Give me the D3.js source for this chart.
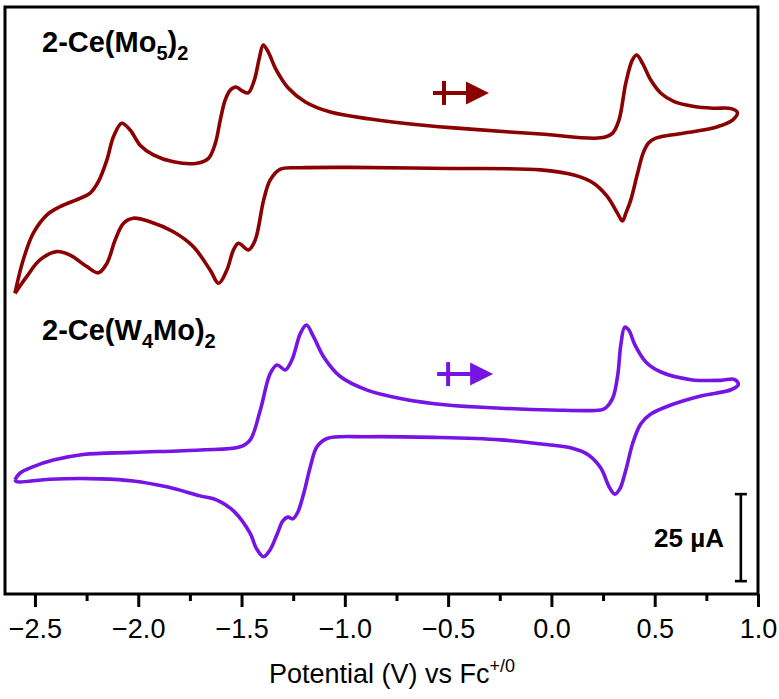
<!DOCTYPE html>
<html>
<head>
<meta charset="utf-8">
<script src="https://cdnjs.cloudflare.com/ajax/libs/d3/7.8.5/d3.min.js"></script>
<style>
  body { margin: 0; background: #fff; }
  text { font-family: "Liberation Sans", Arial, sans-serif; }
</style>
</head>
<body>
<svg id="chart" width="779" height="699"></svg>
<script>
// potential (V vs Fc+/0), current (uA, curves stacked)
var mo5Curve = [
  [-2.597, 86.4], [-2.557, 96.0], [-2.508, 103.7], [-2.443, 108.9], [-2.379, 111.3],
  [-2.282, 113.7], [-2.233, 115.2], [-2.193, 118.5], [-2.152, 124.7], [-2.120, 131.4],
  [-2.080, 135.3], [-2.040, 133.4], [-1.991, 129.0], [-1.927, 126.2], [-1.830, 124.2],
  [-1.716, 123.8], [-1.660, 125.2], [-1.627, 129.5], [-1.603, 136.2], [-1.579, 142.0],
  [-1.555, 144.8], [-1.526, 145.7], [-1.497, 144.6], [-1.468, 144.0], [-1.438, 147.7],
  [-1.414, 154.0], [-1.395, 157.8], [-1.371, 155.8], [-1.332, 150.6], [-1.274, 145.4],
  [-1.191, 141.4], [-1.070, 138.5], [-0.876, 136.5], [-0.634, 134.8], [-0.391, 133.6],
  [-0.052, 132.2], [0.239, 131.1], [0.295, 132.4], [0.327, 136.2], [0.360, 146.8],
  [0.392, 153.5], [0.413, 154.9], [0.441, 152.5], [0.481, 147.7], [0.530, 143.9],
  [0.594, 141.5], [0.691, 140.1], [0.788, 139.6], [0.870, 139.5], [0.900, 138.4],
  [0.877, 136.2], [0.804, 134.3], [0.691, 132.9], [0.578, 131.9], [0.505, 131.0],
  [0.470, 129.6], [0.444, 126.7], [0.417, 120.9], [0.384, 113.2], [0.360, 109.4],
  [0.344, 107.2], [0.320, 109.4], [0.271, 114.2], [0.206, 118.0], [0.109, 120.4],
  [-0.052, 121.9], [-0.488, 122.3], [-0.973, 122.6], [-1.215, 122.5], [-1.312, 122.1],
  [-1.361, 119.0], [-1.393, 113.2], [-1.434, 101.7], [-1.466, 98.9], [-1.515, 100.8],
  [-1.539, 98.9], [-1.571, 93.1], [-1.611, 89.3], [-1.652, 93.1], [-1.733, 99.8],
  [-1.830, 104.1], [-1.943, 107.0], [-2.024, 108.0], [-2.072, 106.5], [-2.112, 101.7],
  [-2.152, 95.0], [-2.193, 92.3], [-2.249, 94.1], [-2.330, 97.4], [-2.395, 98.4],
  [-2.476, 96.0], [-2.540, 91.2], [-2.597, 86.4]
];

var w4moCurve = [
  [-2.597, 32.8], [-2.573, 34.7], [-2.508, 36.6], [-2.411, 38.5], [-2.266, 40.1],
  [-2.024, 40.7], [-1.700, 41.4], [-1.506, 42.3], [-1.458, 44.3], [-1.409, 52.9],
  [-1.361, 63.4], [-1.328, 65.8], [-1.288, 64.4], [-1.256, 67.3], [-1.215, 74.9],
  [-1.186, 77.3], [-1.151, 73.9], [-1.103, 68.2], [-1.022, 62.5], [-0.892, 58.6],
  [-0.731, 56.2], [-0.504, 54.3], [-0.246, 53.4], [-0.004, 52.9], [0.239, 52.9],
  [0.263, 53.5], [0.297, 56.3], [0.321, 62.9], [0.336, 71.6], [0.355, 76.7],
  [0.374, 75.9], [0.404, 71.6], [0.457, 66.7], [0.530, 63.8], [0.675, 61.6],
  [0.820, 61.4], [0.885, 61.7], [0.905, 60.3], [0.869, 58.7], [0.723, 56.9],
  [0.578, 54.3], [0.481, 51.7], [0.433, 48.9], [0.394, 43.4], [0.360, 35.6],
  [0.331, 30.2], [0.307, 28.7], [0.282, 30.5], [0.239, 36.2], [0.181, 39.9],
  [0.093, 42.0], [-0.004, 42.8], [-0.246, 44.3], [-0.569, 45.0], [-0.892, 45.2],
  [-1.086, 44.7], [-1.135, 42.3], [-1.167, 36.6], [-1.199, 28.9], [-1.228, 23.5],
  [-1.252, 21.6], [-1.276, 22.1], [-1.300, 21.0], [-1.329, 17.0], [-1.363, 12.6],
  [-1.393, 10.7], [-1.429, 13.2], [-1.458, 17.4], [-1.539, 23.9], [-1.619, 27.0],
  [-1.700, 28.2], [-1.862, 30.8], [-2.024, 32.5], [-2.185, 33.1], [-2.427, 33.0],
  [-2.589, 32.3], [-2.597, 32.8]
];

var xTicks = [-2.5, -2.0, -1.5, -1.0, -0.5, 0.0, 0.5, 1.0];
var xMinorTicks = [-2.25, -1.75, -1.25, -0.75, -0.25, 0.25, 0.75];
var scaleBar = [3.7, 28.7];       // 25 uA
var arrowStart = [-0.52, -0.50];  // scan start, V

var svg = d3.select("#chart");
var padL = 5, padR = 758, padT = 7, padB = 594;

var x = d3.scaleLinear().domain([-2.645, 1.0]).range([padL, padR]);
var y = d3.scaleLinear().domain([0, 168.7]).range([padB, padT]);

var line = d3.line()
  .x(function (d) { return x(d[0]); })
  .y(function (d) { return y(d[1]); })
  .curve(d3.curveCatmullRom.alpha(0.5));

// curves
var series = [
  { data: mo5Curve, color: "#8b0000", arrowY: 144.0, start: arrowStart[0] },
  { data: w4moCurve, color: "#7514e4", arrowY: 63.2, start: arrowStart[1] }
];

series.forEach(function (s) {
  svg.append("path")
    .attr("d", line(s.data))
    .attr("fill", "none")
    .attr("stroke", s.color)
    .attr("stroke-width", 3.6)
    .attr("stroke-linejoin", "round");

  // scan direction marker
  var ax = x(s.start), ay = y(s.arrowY);
  var g = svg.append("g");
  g.append("line")
    .attr("x1", ax - 11).attr("x2", ax + 25)
    .attr("y1", ay).attr("y2", ay)
    .attr("stroke", s.color).attr("stroke-width", 4);
  g.append("line")
    .attr("x1", ax).attr("x2", ax)
    .attr("y1", ay - 12).attr("y2", ay + 12)
    .attr("stroke", s.color).attr("stroke-width", 4);
  g.append("path")
    .attr("d", "M" + (ax + 22) + "," + (ay - 11.5) + "L" + (ax + 45) + "," + ay + "L" + (ax + 22) + "," + (ay + 11.5) + "Z")
    .attr("fill", s.color);
});

// frame
svg.append("rect")
  .attr("x", padL).attr("y", padT)
  .attr("width", padR - padL).attr("height", padB - padT)
  .attr("fill", "none")
  .attr("stroke", "#000")
  .attr("stroke-width", 3);

// x axis
var xAxis = d3.axisBottom(x).tickValues(xTicks).tickSize(13).tickPadding(12)
  .tickFormat(function (d) { return d3.format(".1f")(d).replace("-", "\u2212"); });
var gx = svg.append("g").attr("transform", "translate(0," + padB + ")").call(xAxis);
gx.select(".domain").remove();
gx.selectAll(".tick line").attr("stroke", "#000").attr("stroke-width", 3);
gx.selectAll(".tick text")
  .attr("fill", "#000")
  .style("font-size", "27px")
  .style("font-family", "'Liberation Sans', Arial, sans-serif");

var gm = svg.append("g").attr("transform", "translate(0," + padB + ")")
  .call(d3.axisBottom(x).tickValues(xMinorTicks).tickSize(7).tickFormat(""));
gm.select(".domain").remove();
gm.selectAll(".tick line").attr("stroke", "#000").attr("stroke-width", 3);

// axis title
var title = svg.append("text")
  .attr("x", 392).attr("y", 683)
  .attr("text-anchor", "middle")
  .attr("fill", "#000")
  .style("font-size", "27px");
title.append("tspan").text("Potential (V) vs Fc");
title.append("tspan").attr("dy", -11).style("font-size", "18px").text("+/0");

// compound labels
function label(yPos, parts) {
  var t = svg.append("text")
    .attr("x", 42).attr("y", yPos)
    .attr("fill", "#000")
    .style("font-size", "29px")
    .style("font-weight", "bold");
  var shift = 0;
  parts.forEach(function (p) {
    var sub = p[1];
    var ts = t.append("tspan").text(p[0]);
    var target = sub ? 8 : 0;
    if (target !== shift) { ts.attr("dy", target - shift); shift = target; }
    if (sub) ts.style("font-size", "20px");
  });
}
label(52, [["2-Ce(Mo", 0], ["5", 1], [")", 0], ["2", 1]]);
label(340, [["2-Ce(W", 0], ["4", 1], ["Mo)", 0], ["2", 1]]);

// scale bar
var sbx = x(0.917);
var sb = svg.append("g").attr("stroke", "#000").attr("stroke-width", 2.6);
sb.append("line").attr("x1", sbx).attr("x2", sbx).attr("y1", y(scaleBar[0])).attr("y2", y(scaleBar[1]));
sb.append("line").attr("x1", sbx - 6).attr("x2", sbx + 6).attr("y1", y(scaleBar[0])).attr("y2", y(scaleBar[0]));
sb.append("line").attr("x1", sbx - 6).attr("x2", sbx + 6).attr("y1", y(scaleBar[1])).attr("y2", y(scaleBar[1]));
svg.append("text")
  .attr("x", 724).attr("y", 547)
  .attr("text-anchor", "end")
  .attr("fill", "#000")
  .style("font-size", "26px")
  .style("font-weight", "bold")
  .text("25 \u00b5A");
</script>
</body>
</html>
